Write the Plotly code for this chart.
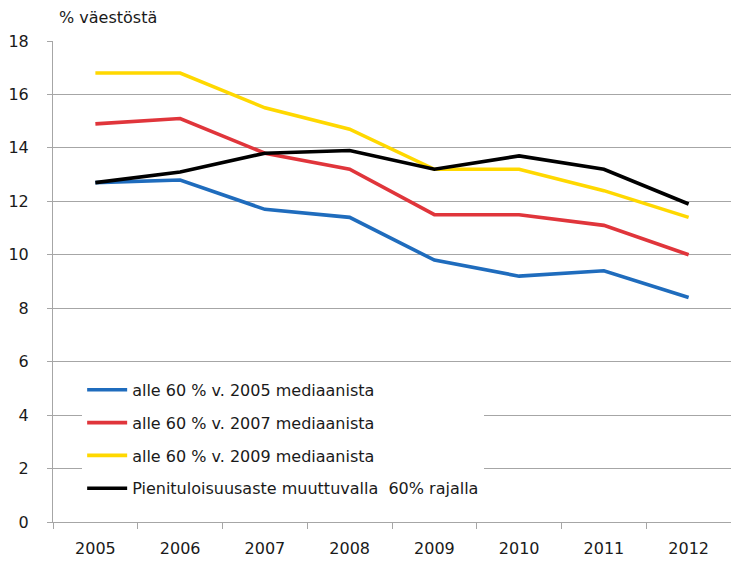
import plotly.graph_objects as go

years = ["2005", "2006", "2007", "2008", "2009", "2010", "2011", "2012"]
s2005 = [12.7, 12.8, 11.7, 11.4, 9.8, 9.2, 9.4, 8.4]
s2007 = [14.9, 15.1, 13.8, 13.2, 11.5, 11.5, 11.1, 10.0]
s2009 = [16.8, 16.8, 15.5, 14.7, 13.2, 13.2, 12.4, 11.4]
smov = [12.7, 13.1, 13.8, 13.9, 13.2, 13.7, 13.2, 11.9]

names = [
    "alle 60 % v. 2005 mediaanista",
    "alle 60 % v. 2007 mediaanista",
    "alle 60 % v. 2009 mediaanista",
    "Pienituloisuusaste muuttuvalla  60% rajalla",
]
colors = ["#1f6cbd", "#e0353b", "#ffd800", "#000000"]
series = [s2005, s2007, s2009, smov]

FONT = "DejaVu Sans"
TXT = "#1a1a1a"
fig = go.Figure()
for i in [0, 1, 2, 3]:
    fig.add_trace(go.Scatter(
        x=years, y=series[i], mode="lines", name=names[i],
        line=dict(color=colors[i], width=3.6),
        legendgroup=f"g{i}", legendrank=i + 1,
    ))

grid = "#a6a6a6"
fig.update_layout(
    width=731, height=563,
    margin=dict(l=53, r=0, t=41, b=41, autoexpand=False),
    paper_bgcolor="white", plot_bgcolor="white",
    font=dict(family=FONT, size=16, color=TXT),
    showlegend=True,
    legend=dict(
        x=0.043, y=0.31, xanchor="left", yanchor="top",
        bgcolor="white", borderwidth=0,
        font=dict(family=FONT, size=16, color=TXT),
        tracegroupgap=9, itemwidth=40,
    ),
    xaxis=dict(
        type="category", range=[-0.5, 7.5], tickson="boundaries",
        ticks="outside", ticklen=6, tickcolor=grid, tickwidth=1,
        showline=True, linecolor=grid, linewidth=1, showgrid=False,
        tickfont=dict(family=FONT, size=16, color=TXT),
        ticklabelstandoff=12, automargin=False,
    ),
    yaxis=dict(
        range=[0, 18], dtick=2, tick0=0,
        ticks="outside", ticklen=5, tickcolor=grid, tickwidth=1,
        showline=True, linecolor=grid, linewidth=1,
        showgrid=True, gridcolor=grid, gridwidth=1, zeroline=False,
        tickfont=dict(family=FONT, size=16, color=TXT),
        ticklabelstandoff=15, automargin=False,
    ),
    annotations=[dict(
        text="% väestöstä", xref="paper", yref="paper",
        x=0.006, y=1.048, xanchor="left", yanchor="middle",
        showarrow=False, font=dict(family=FONT, size=16, color=TXT),
    )],
)

fig.write_html(
    "out.html",
    config={"displayModeBar": False},
    post_script="document.body.style.margin='0';document.body.style.overflow='hidden';",
)
